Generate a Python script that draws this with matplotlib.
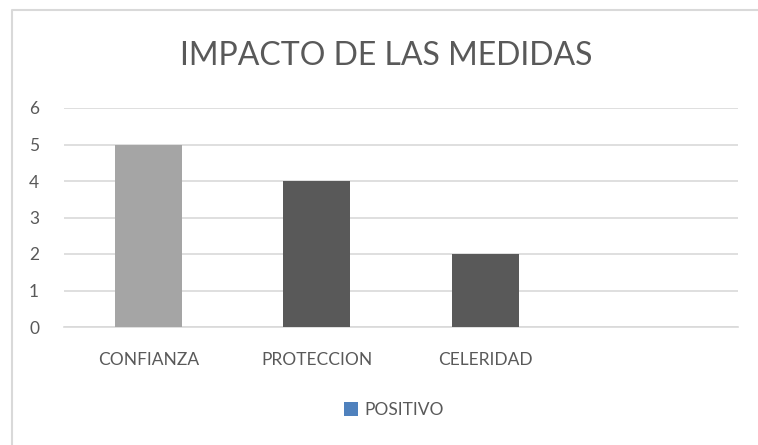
import matplotlib
matplotlib.use("Agg")
import matplotlib.pyplot as plt
from matplotlib.patches import Patch
from matplotlib.lines import Line2D
import numpy as np

plt.rcParams['font.family'] = ['Lato', 'DejaVu Sans']

# data
categories = ["CONFIANZA", "PROTECCION", "CELERIDAD", ""]
values = [5, 4, 2, np.nan]
bar_colors = ["#A5A5A5", "#595959", "#595959", "#595959"]
series_name = "POSITIVO"
title = "IMPACTO DE LAS MEDIDAS"

text_col = "#595959"
grid_col = "#D9D9D9"

fig = plt.figure(figsize=(7.58, 4.45), dpi=100)
ax = fig.add_axes([64/758, 1 - 327/445, (738 - 64)/758, (327 - 108)/445])

x = np.arange(len(categories))
ax.bar(x, values, width=0.40, color=bar_colors, zorder=3)

ax.set_xlim(-0.5, len(categories) - 0.5)
ax.set_ylim(0, 6)
ax.set_yticks(range(0, 7))
ax.set_xticks(x)
ax.set_xticklabels(categories)
ax.tick_params(axis='both', length=0, labelsize=12.5, colors=text_col)
ax.tick_params(axis='x', pad=18)
ax.tick_params(axis='y', pad=18)
ax.grid(axis='y', color=grid_col, linewidth=1.2, zorder=0)
for s in ["top", "right", "left"]:
    ax.spines[s].set_visible(False)
ax.spines["bottom"].set_color(grid_col)
ax.spines["bottom"].set_linewidth(1.2)

fig.text(386/758, 1 - 56/445, title, ha='center', va='center',
         fontsize=23, color=text_col)

handle = [Patch(facecolor="#4F81BD", label=series_name)]
fig.legend(handles=handle, loc='center', bbox_to_anchor=(394/758, 1 - 410/445),
           frameon=False, fontsize=12.5, labelcolor=text_col,
           handlelength=0.8, handleheight=0.8, handletextpad=0.4)

# chart border (only left and top edges are inside the picture)
fig.add_artist(Line2D([12/758, 12/758, 1], [0, 1 - 10/445, 1 - 10/445],
                      transform=fig.transFigure, color=grid_col, linewidth=1.5))

fig.savefig("out.png", dpi=100)
